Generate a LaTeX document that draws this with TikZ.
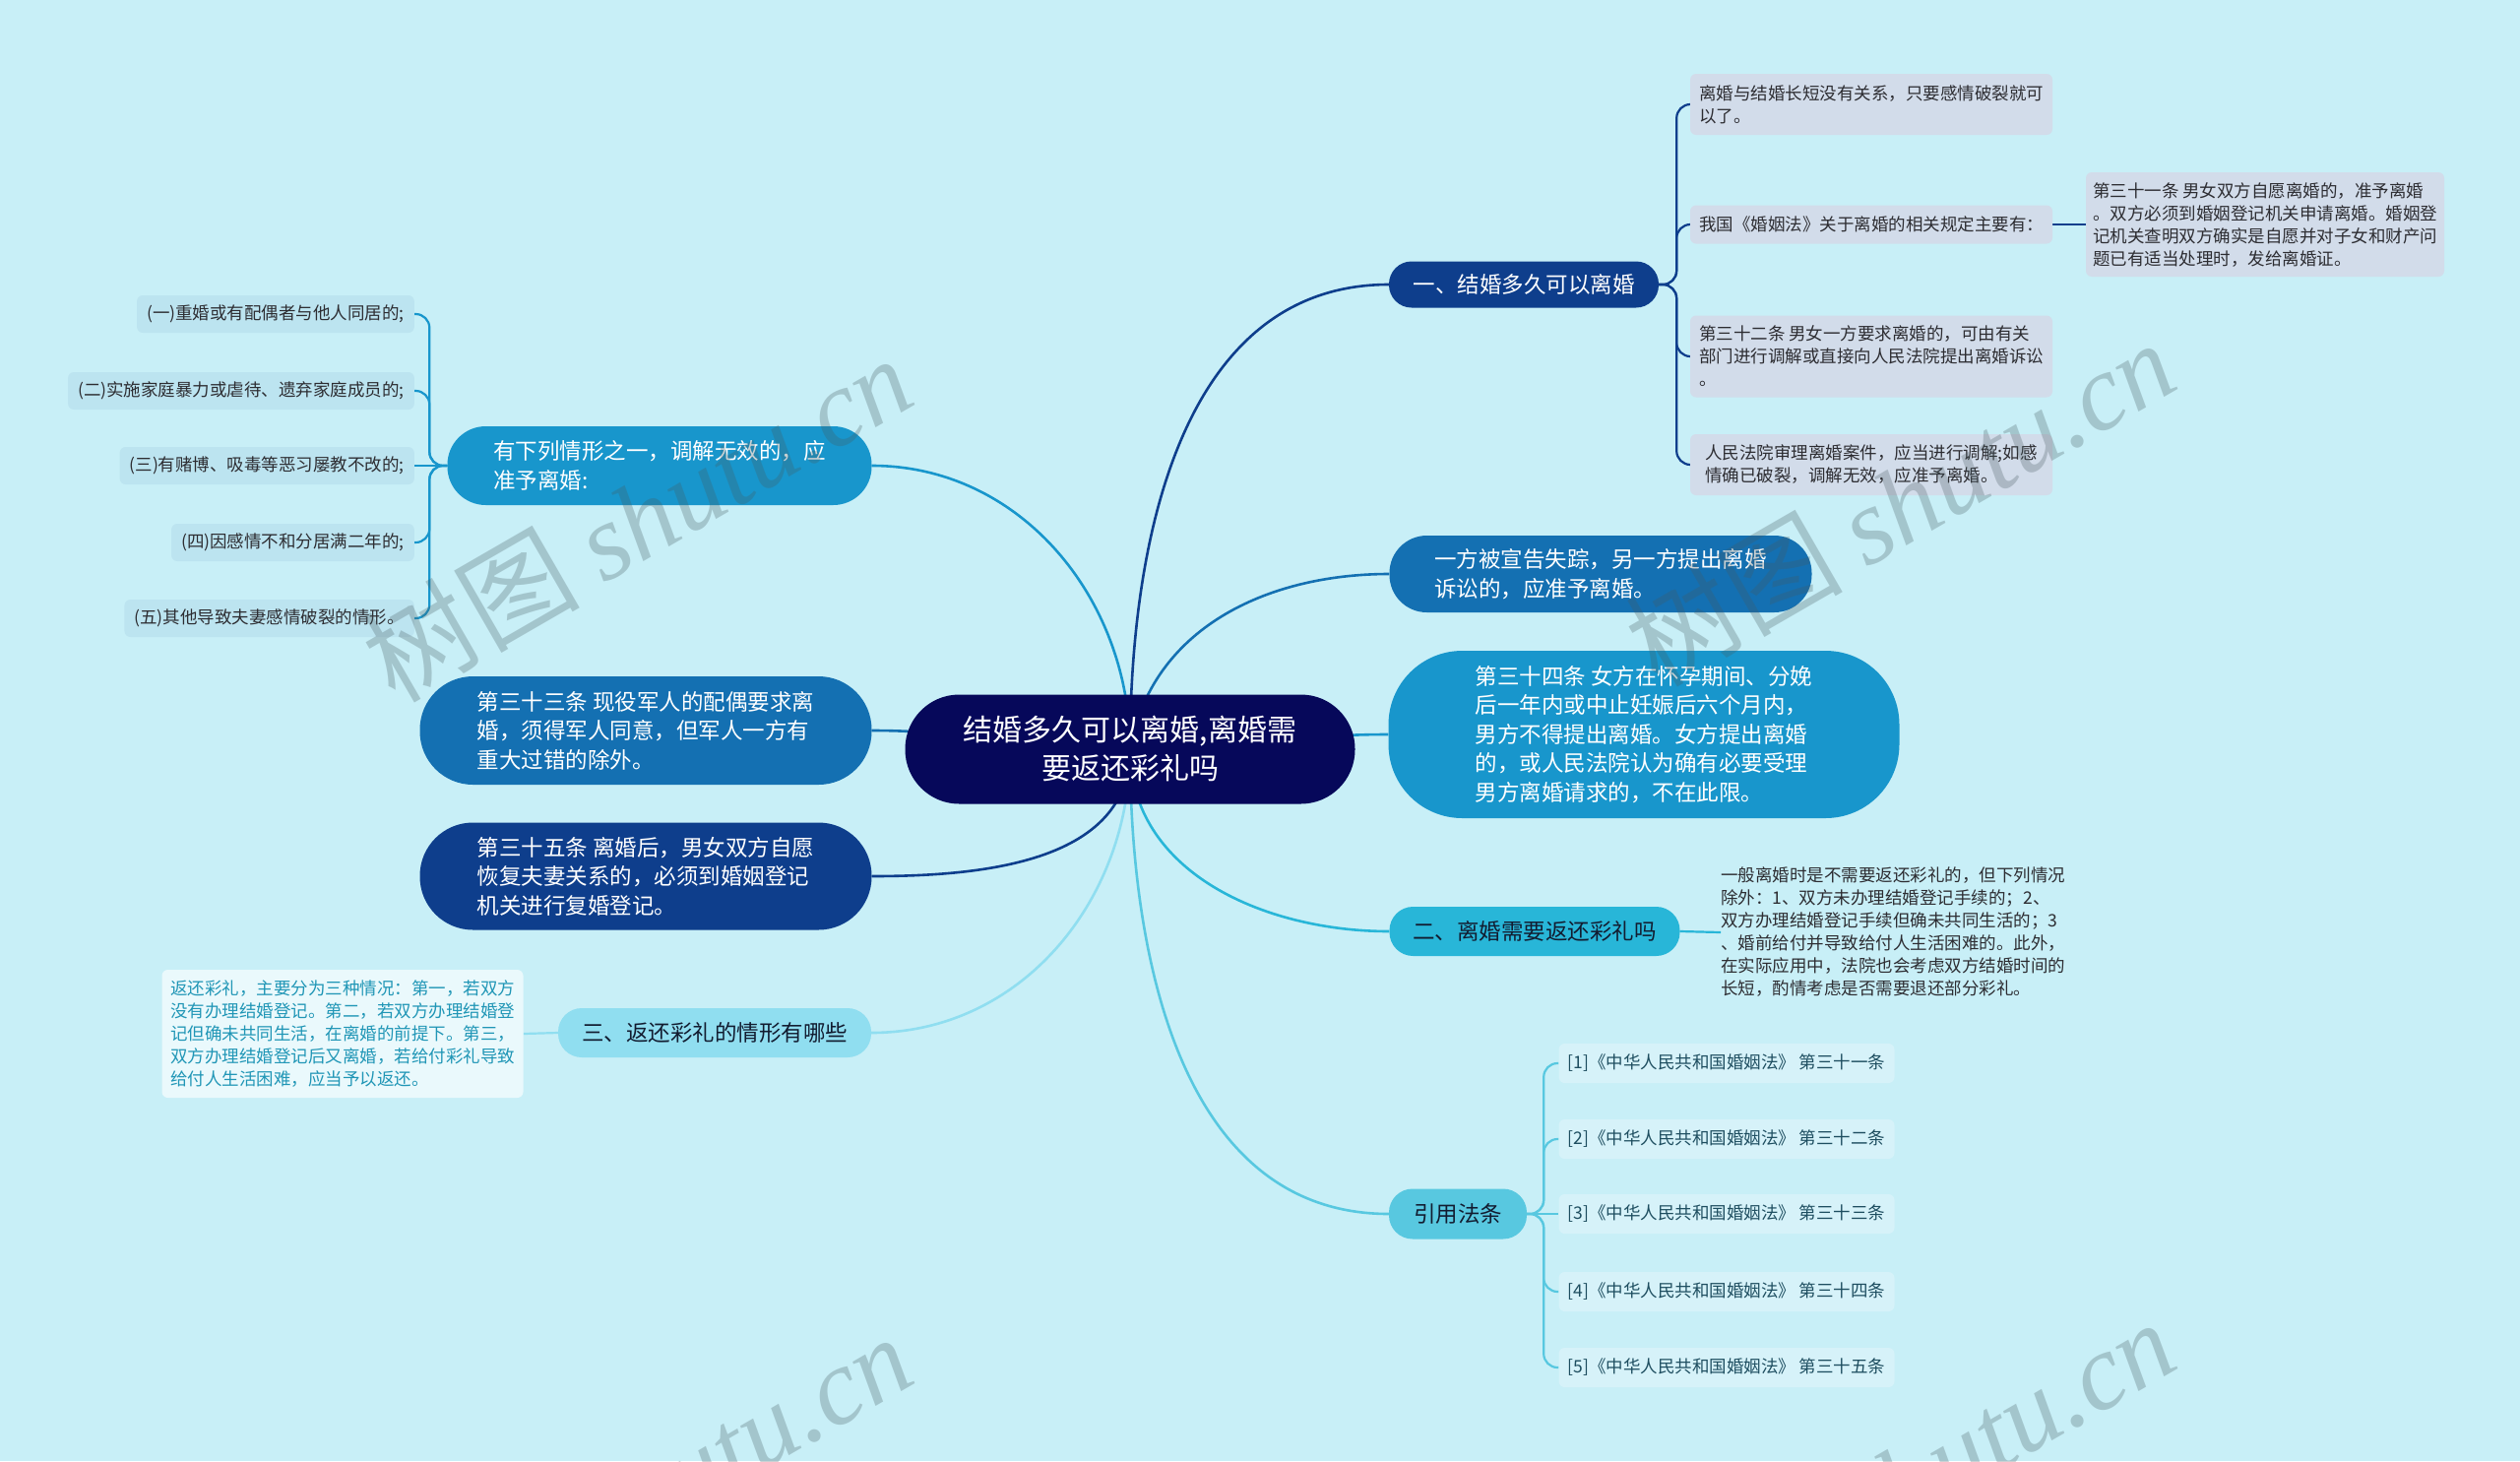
\documentclass[tikz,border=0pt]{standalone}
\usepackage{fontspec}
\usepackage{xcolor}
\usepackage{tikz}
\setmainfont{Noto Sans CJK SC}
\newfontfamily\wmlatin{Liberation Serif}
\usetikzlibrary{calc}
\definecolor{bgCyan}    {RGB}{200,239,247}
\definecolor{rootNavy}  {RGB}{6,  8,  90}
\definecolor{navyBlue}  {RGB}{14, 62, 140}
\definecolor{midBlue}   {RGB}{20, 112,178}
\definecolor{skyBlue}   {RGB}{24, 150,204}
\definecolor{cyanBlue}  {RGB}{40, 182,216}
\definecolor{paleCyan}  {RGB}{88, 200,224}
\definecolor{iceCyan}   {RGB}{144,222,240}
\definecolor{leafGray}  {RGB}{210,220,234}
\definecolor{listFill}  {RGB}{188,228,240}
\definecolor{citeFill}  {RGB}{214,242,249}
\definecolor{noteFill}  {RGB}{234,249,252}
\definecolor{noteTeal}  {RGB}{32, 150,182}
\definecolor{txtDark}   {RGB}{45, 45, 50}
\definecolor{txtNavy}   {RGB}{18, 28, 48}
\definecolor{citeText}  {RGB}{30, 78, 96}
\definecolor{wmGray}    {RGB}{70, 90, 96}
\newcommand\rootfont{\fontsize{30pt}{39pt}\selectfont}
\newcommand\branchfont{\fontsize{22.5pt}{29.5pt}\selectfont}
\newcommand\leaffont{\fontsize{17.5pt}{23pt}\selectfont}
\newcommand\wmfont{\fontsize{110pt}{110pt}\selectfont}
\pgfdeclarelayer{bg}
\pgfdeclarelayer{edges}
\pgfsetlayers{bg,edges,main}

\begin{document}
\begin{tikzpicture}[x=1pt,y=1pt,
    topic/.style={fill=#1,rounded corners=24pt,text=white,font=\branchfont,
                  align=left,inner sep=0pt},
    detail/.style={fill=#1,rounded corners=6pt,text=txtDark,font=\leaffont,
                   align=left,inner sep=0pt},
    listitem/.style={detail=listFill,anchor=east,inner xsep=10pt,minimum height=38pt},
    citeitem/.style={detail=citeFill,text=citeText,minimum width=341pt,minimum height=40pt},
    link/.style={draw=#1,line width=2.6pt},
    twig/.style={draw=#1,line width=2.2pt,rounded corners=14pt},
    wmark/.style={text=wmGray,opacity=0.28,font=\wmfont,rotate=30}]

    \useasboundingbox (0,0) rectangle (2560,-1484);
    \begin{pgfonlayer}{bg}
      \fill[bgCyan] (0,0) rectangle (2560,-1484);
    \end{pgfonlayer}

    % ── centre ────────────────────────────────────────────
    \node[fill=rootNavy,rounded corners=55pt,text=white,font=\rootfont,
          align=center,inner sep=0pt,minimum width=457pt,minimum height=111pt]
          (root) at (1148,-761) {结婚多久可以离婚,离婚需\\要返还彩礼吗};

    % ── right side ────────────────────────────────────────
    \node[topic=navyBlue,minimum width=274pt,minimum height=47pt,rounded corners=23pt]
          (n1) at (1548,-289) {一、结婚多久可以离婚};
    \node[topic=midBlue,minimum width=429pt,minimum height=78pt,rounded corners=38pt]
          (n2) at (1626,-583) {一方被宣告失踪，另一方提出离婚\\诉讼的，应准予离婚。};
    \node[topic=skyBlue,minimum width=519pt,minimum height=170pt,rounded corners=75pt]
          (n3) at (1670,-746)
      {第三十四条 女方在怀孕期间、分娩\\后一年内或中止妊娠后六个月内，\\
       男方不得提出离婚。女方提出离婚\\的，或人民法院认为确有必要受理\\
       男方离婚请求的，不在此限。};
    \node[topic=cyanBlue,text=txtNavy,minimum width=295pt,minimum height=50pt]
          (n4) at (1559,-946) {二、离婚需要返还彩礼吗};
    \node[topic=paleCyan,text=txtNavy,minimum width=140pt,minimum height=51pt]
          (n5) at (1481,-1233) {引用法条};

    % 一、 details
    \node[detail=leafGray,minimum width=368pt,minimum height=62pt] (l1) at (1901,-106)
      {离婚与结婚长短没有关系，只要感情破裂就可\\以了。};
    \node[detail=leafGray,minimum width=368pt,minimum height=39pt] (l2) at (1901,-228)
      {我国《婚姻法》关于离婚的相关规定主要有：};
    \node[detail=leafGray,minimum width=368pt,minimum height=83pt] (l3) at (1901,-362)
      {第三十二条 男女一方要求离婚的，可由有关\\部门进行调解或直接向人民法院提出离婚诉讼\\。};
    \node[detail=leafGray,minimum width=368pt,minimum height=62pt] (l4) at (1901,-472)
      {人民法院审理离婚案件，应当进行调解;如感\\情确已破裂，调解无效，应准予离婚。};
    \node[detail=leafGray,minimum width=364pt,minimum height=106pt] (k1) at (2301,-228)
      {第三十一条 男女双方自愿离婚的，准予离婚\\。双方必须到婚姻登记机关申请离婚。婚姻登\\
       记机关查明双方确实是自愿并对子女和财产问\\题已有适当处理时，发给离婚证。};

    % 二、 note
    \node[font=\leaffont,text=txtDark,align=left,anchor=west,inner sep=0pt]
          (t1) at (1748,-947)
      {一般离婚时是不需要返还彩礼的，但下列情况\\除外：1、双方未办理结婚登记手续的；2、\\
       双方办理结婚登记手续但确未共同生活的；3\\、婚前给付并导致给付人生活困难的。此外，\\
       在实际应用中，法院也会考虑双方结婚时间的\\长短，酌情考虑是否需要退还部分彩礼。};

    % 引用法条
    \node[citeitem] (r1) at (1754,-1080) {[1]《中华人民共和国婚姻法》 第三十一条};
    \node[citeitem] (r2) at (1754,-1157) {[2]《中华人民共和国婚姻法》 第三十二条};
    \node[citeitem] (r3) at (1754,-1233) {[3]《中华人民共和国婚姻法》 第三十三条};
    \node[citeitem] (r4) at (1754,-1312) {[4]《中华人民共和国婚姻法》 第三十四条};
    \node[citeitem] (r5) at (1754,-1389) {[5]《中华人民共和国婚姻法》 第三十五条};

    % ── left side ─────────────────────────────────────────
    \node[topic=skyBlue,minimum width=431pt,minimum height=80pt,rounded corners=39pt]
          (m1) at (670,-473) {有下列情形之一，调解无效的，应\\准予离婚:};
    \node[topic=midBlue,minimum width=459pt,minimum height=110pt,rounded corners=54pt]
          (m2) at (656,-742)
      {第三十三条 现役军人的配偶要求离\\婚，须得军人同意，但军人一方有\\重大过错的除外。};
    \node[topic=navyBlue,minimum width=459pt,minimum height=109pt,rounded corners=54pt]
          (m3) at (656,-890)
      {第三十五条 离婚后，男女双方自愿\\恢复夫妻关系的，必须到婚姻登记\\机关进行复婚登记。};
    \node[topic=iceCyan,text=txtNavy,minimum width=318pt,minimum height=50pt]
          (m4) at (726,-1049) {三、返还彩礼的情形有哪些};

    % 有下列情形 list
    \node[listitem] (i1) at (421,-319) {(一)重婚或有配偶者与他人同居的;};
    \node[listitem] (i2) at (421,-397) {(二)实施家庭暴力或虐待、遗弃家庭成员的;};
    \node[listitem] (i3) at (421,-473) {(三)有赌博、吸毒等恶习屡教不改的;};
    \node[listitem] (i4) at (421,-551) {(四)因感情不和分居满二年的;};
    \node[listitem] (i5) at (421,-628) {(五)其他导致夫妻感情破裂的情形。};

    % 三、 note
    \node[detail=noteFill,text=noteTeal,minimum width=367pt,minimum height=130pt]
          (b1) at (348,-1050)
      {返还彩礼，主要分为三种情况：第一，若双方\\没有办理结婚登记。第二，若双方办理结婚登\\
       记但确未共同生活，在离婚的前提下。第三，\\双方办理结婚登记后又离婚，若给付彩礼导致\\
       给付人生活困难，应当予以返还。};

    % ── connectors ────────────────────────────────────────
    \begin{pgfonlayer}{edges}
      \draw[link=navyBlue] (root.center) to[out=90,in=180] (n1.west);
      \draw[link=midBlue]  (root.center) to[out=80,in=180] (n2.west);
      \draw[link=skyBlue]  (root.center) to[out=0,in=180] (n3.west);
      \draw[link=cyanBlue] (root.center) to[out=-90,in=180] (n4.west);
      \draw[link=paleCyan] (root.center) to[out=-90,in=180] (n5.west);
      \draw[link=skyBlue]  (root.center) to[out=90,in=0] (m1.east);
      \draw[link=midBlue]  (root.center) to[out=180,in=0] (m2.east);
      \draw[link=navyBlue] (root.center) to[out=-90,in=0] (m3.east);
      \draw[link=iceCyan]  (root.center) to[out=-90,in=0] (m4.east);

      \draw[twig=navyBlue] (n1.east) -- ++(18,0) |- (l1.west);
      \draw[twig=navyBlue] (n1.east) -- ++(18,0) |- (l2.west);
      \draw[twig=navyBlue] (n1.east) -- ++(18,0) |- (l3.west);
      \draw[twig=navyBlue] (n1.east) -- ++(18,0) |- (l4.west);
      \draw[twig=navyBlue] (l2.east) -- (k1.west);

      \draw[twig=cyanBlue] (n4.east) -- (t1.west);

      \draw[twig=paleCyan] (n5.east) -- ++(17,0) |- (r1.west);
      \draw[twig=paleCyan] (n5.east) -- ++(17,0) |- (r2.west);
      \draw[twig=paleCyan] (n5.east) -- (r3.west);
      \draw[twig=paleCyan] (n5.east) -- ++(17,0) |- (r4.west);
      \draw[twig=paleCyan] (n5.east) -- ++(17,0) |- (r5.west);

      \draw[twig=skyBlue] (m1.west) -- ++(-18,0) |- (i1.east);
      \draw[twig=skyBlue] (m1.west) -- ++(-18,0) |- (i2.east);
      \draw[twig=skyBlue] (m1.west) -- (i3.east);
      \draw[twig=skyBlue] (m1.west) -- ++(-18,0) |- (i4.east);
      \draw[twig=skyBlue] (m1.west) -- ++(-18,0) |- (i5.east);

      \draw[twig=iceCyan] (m4.west) -- (b1.east);
    \end{pgfonlayer}

    % watermark
    \node[wmark] (w1) at (647,-526)  {树图 {\wmlatin\itshape shutu.cn}};
    \node[wmark] (w2) at (1930,-510) {树图 {\wmlatin\itshape shutu.cn}};
    \node[wmark] (w3) at (647,-1520) {树图 {\wmlatin\itshape shutu.cn}};
    \node[wmark] (w4) at (1930,-1505){树图 {\wmlatin\itshape shutu.cn}};

\end{tikzpicture}
\end{document}
